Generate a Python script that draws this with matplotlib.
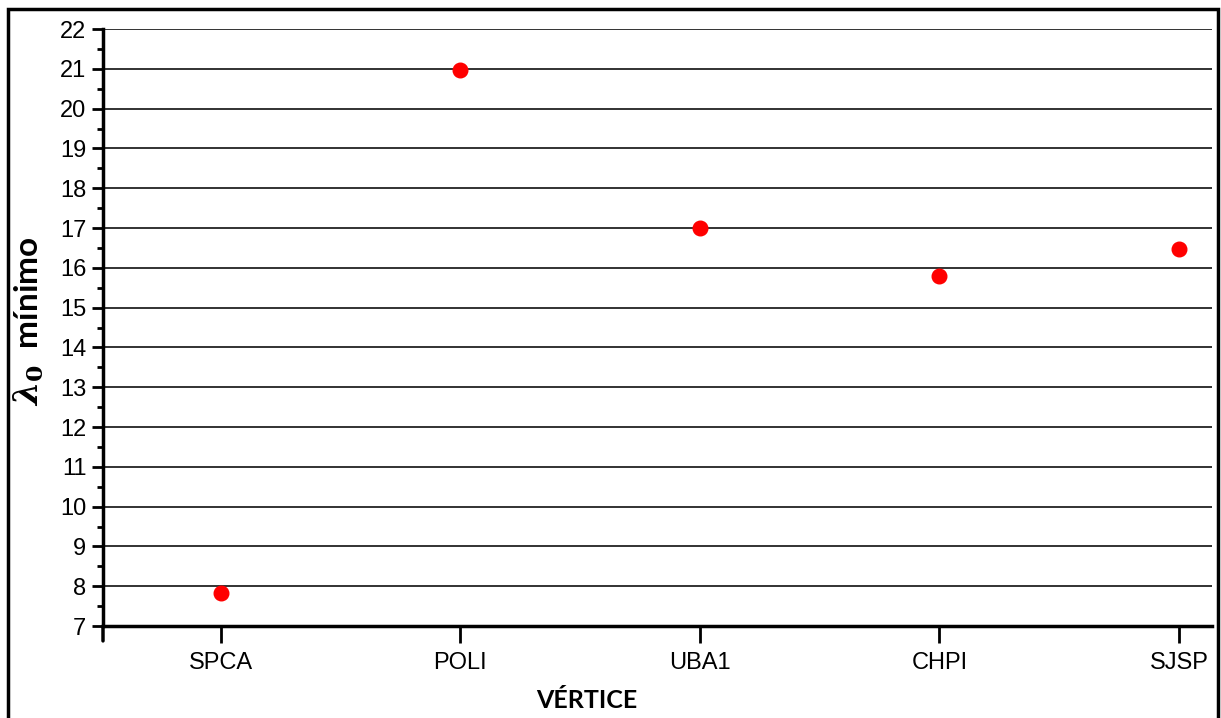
import matplotlib
matplotlib.use("Agg")
import matplotlib.pyplot as plt
from matplotlib.patches import Rectangle
from matplotlib.ticker import MultipleLocator

categories = ["SPCA", "POLI", "UBA1", "CHPI", "SJSP"]
values = [7.83, 20.97, 17.0, 15.79, 16.47]
yticks = list(range(7, 23))

plt.rcParams['font.family'] = ['Liberation Sans', 'DejaVu Sans']
plt.rcParams['mathtext.fontset'] = 'custom'
plt.rcParams['mathtext.it'] = 'DejaVu Serif:bold:italic'
plt.rcParams['mathtext.rm'] = 'DejaVu Serif:bold'

W, H = 1221, 718
fig = plt.figure(figsize=(W / 100, H / 100), dpi=100)
ax = fig.add_axes([103 / W, 1 - 626 / H, (1212 - 103) / W, (626 - 29) / H])

x = list(range(len(categories)))
ax.plot(x, values, linestyle='none', marker='o', color='#ff0000', markersize=10.5, zorder=5)

ax.set_xlim(-0.4917, 4.1375)
ax.set_ylim(7, 22)
ax.set_yticks(yticks)
ax.yaxis.set_minor_locator(MultipleLocator(0.5))
ax.set_xticks(x)
ax.set_xticklabels(categories)
ax.grid(axis='y', which='major', color='#222222', linewidth=1.3)
ax.set_axisbelow(True)

for s in ['top', 'right']:
    ax.spines[s].set_visible(False)
ax.spines['left'].set_linewidth(2.5)
ax.spines['bottom'].set_linewidth(2.5)

ax.tick_params(axis='y', which='major', direction='out', length=8, width=2, labelsize=17, pad=4)
ax.tick_params(axis='y', which='minor', direction='out', length=4, width=2)
ax.tick_params(axis='x', which='major', direction='out', length=12, width=2, labelsize=17, pad=7)

# extra tick at left end of x axis
ax.annotate('', xy=(0, -0.025), xycoords='axes fraction', xytext=(0, 0), textcoords='axes fraction',
            arrowprops=dict(arrowstyle='-', linewidth=2.5, color='black', shrinkA=0, shrinkB=0))

ax.set_xlabel('VÉRTICE', fontsize=18, fontweight='bold', family=['Lato', 'DejaVu Sans'], labelpad=10)
ax.xaxis.set_label_coords((587 - 103) / 1109, -0.105)
ax.set_ylabel(r'$\lambda_0$  mínimo', fontsize=24, fontweight='bold', family=['Lato', 'DejaVu Sans'])
ax.yaxis.set_label_coords(-0.051, (626 - 321) / 597)

fig.patches.append(Rectangle((8 / W, -0.05), (1218 - 8) / W, 1.05 - 9 / H,
                             transform=fig.transFigure, fill=False, edgecolor='black',
                             linewidth=2.5, zorder=10))

fig.savefig('out.png', dpi=100)
